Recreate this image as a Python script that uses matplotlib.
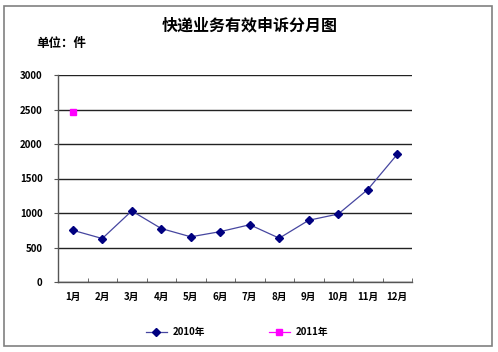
import matplotlib
matplotlib.use('Agg')
import matplotlib.pyplot as plt
from matplotlib.patches import Rectangle

plt.rcParams['font.family'] = ['Noto Sans CJK SC', 'DejaVu Sans']

# data
months = ['1月', '2月', '3月', '4月', '5月', '6月', '7月', '8月', '9月', '10月', '11月', '12月']
y2010 = [750, 630, 1030, 775, 655, 730, 830, 635, 895, 985, 1340, 1850]
y2011 = [2460]
yticks = [0, 500, 1000, 1500, 2000, 2500, 3000]

W, H = 498, 352
fig = plt.figure(figsize=(W / 100, H / 100), dpi=100)

# outer frame
fig.patches.append(Rectangle((4 / W, 1 - 346 / H), 488 / W, 340 / H, transform=fig.transFigure,
                             fill=False, edgecolor='#808080', linewidth=1.2))

ax = fig.add_axes([58 / W, 1 - 282 / H, (412 - 58) / W, (282 - 75) / H])

x = list(range(len(months)))
ax.plot(x, y2010, color='#4646a0', lw=0.9, marker='D', markersize=3.6,
        markerfacecolor='#000080', markeredgecolor='#000080', label='2010年')
ax.plot(x[:len(y2011)], y2011, color='#FF00FF', lw=0.9, marker='s', markersize=4.2,
        markerfacecolor='#FF00FF', markeredgecolor='#FF00FF', label='2011年')

ax.set_xlim(-0.5, 11.5)
ax.set_ylim(0, 3000)
ax.set_yticks(yticks)
ax.set_yticklabels([str(v) for v in yticks], fontsize=7, fontweight='bold')
ax.set_xticks(x)
ax.set_xticklabels(months, fontsize=7, fontweight='bold')
ax.set_xticks([i - 0.5 for i in range(13)], minor=True)
ax.tick_params(axis='x', which='major', length=0, pad=7)
ax.tick_params(axis='x', which='minor', direction='in', length=3, color='#555555')
ax.tick_params(axis='y', length=3, color='#555555', pad=8)

ax.grid(axis='y', color='#222222', lw=1.0)
ax.set_axisbelow(True)
for s in ['top', 'right']:
    ax.spines[s].set_visible(False)
for s in ['left', 'bottom']:
    ax.spines[s].set_color('#555555')
    ax.spines[s].set_linewidth(1.0)

fig.text(250 / W, 1 - 25 / H, '快递业务有效申诉分月图', ha='center', va='center',
         fontsize=11.5, fontweight='bold')
fig.text(36 / W, 1 - 44 / H, '单位：件', ha='left', va='center', fontsize=9, fontweight='bold')

fig.legend(loc='center', bbox_to_anchor=(237 / W, 1 - 332 / H), ncol=2, frameon=False,
           prop={'weight': 'bold', 'size': 7}, handlelength=2.2, columnspacing=6.5,
           handletextpad=0.6)

fig.savefig('out.png', dpi=100)
